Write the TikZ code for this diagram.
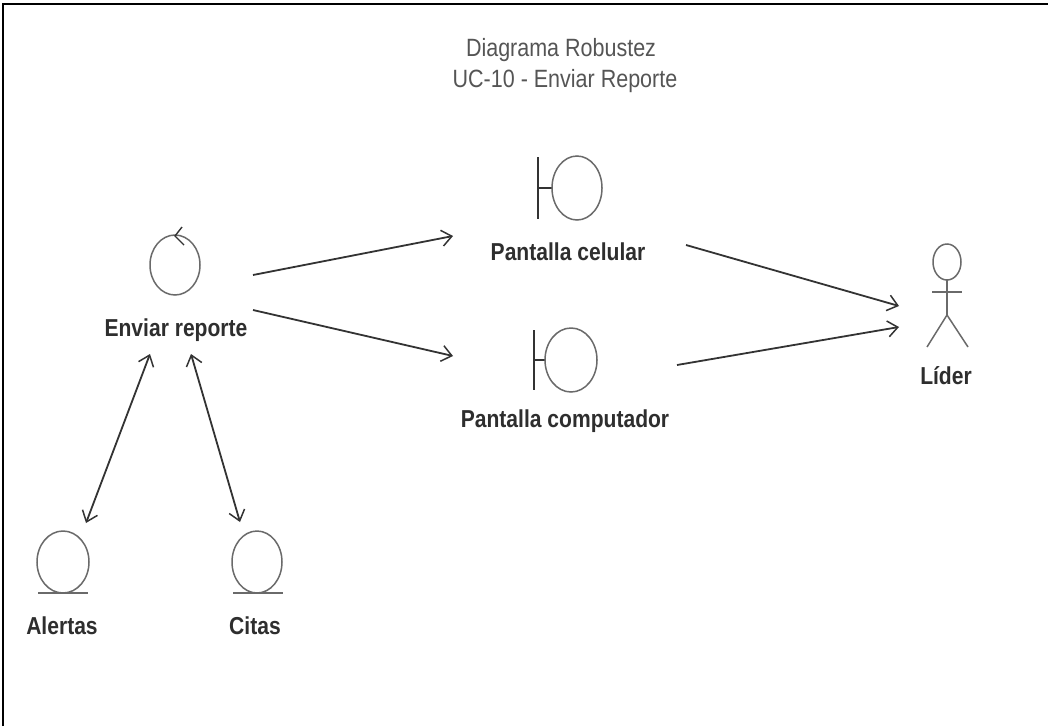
\documentclass[tikz,border=0pt]{standalone}
\usepackage{fontspec}
\setmainfont{Liberation Sans}
\newfontfamily\labfont[FakeStretch=0.86]{Liberation Sans}
\usetikzlibrary{arrows.meta}
\definecolor{linecol}{HTML}{333333}
\definecolor{shapecol}{HTML}{6A6A6A}
\definecolor{labcol}{HTML}{2E2E2E}
\definecolor{titlecol}{HTML}{555555}
\tikzset{
  x=1pt, y=-1pt,
  symbol/.style={draw=shapecol, line width=1.5pt},
  barline/.style={draw=linecol, line width=1.4pt},
  lab/.style={font=\labfont\bfseries\fontsize{24.5}{27}\selectfont, text=labcol, inner sep=0pt},
  ttl/.style={font=\labfont\fontsize{25}{28}\selectfont, text=titlecol, inner sep=0pt},
  tip/.style={Straight Barb[length=10pt,width=16pt,line width=1.5pt]},
  link/.style={draw=linecol, line width=1.8pt, -{Straight Barb[length=10pt,width=16pt,line width=1.5pt]}},
  bilink/.style={draw=linecol, line width=1.8pt, {Straight Barb[length=10pt,width=16pt,line width=1.5pt]}-{Straight Barb[length=10pt,width=16pt,line width=1.5pt]}}
}
\begin{document}
\begin{tikzpicture}
\useasboundingbox (0,0) rectangle (1048,726);
\fill[white] (0,0) rectangle (1048,726);
% frame (top and left edges)
\draw[line width=2pt] (3,726) -- (3,4) -- (1048,4);

% title
\node[ttl] (t1) at (561,50) {Diagrama Robustez};
\node[ttl] (t2) at (565,81) {UC-10 - Enviar Reporte};

% control: Enviar reporte
\draw[symbol] (175,265) ellipse [x radius=25, y radius=30];
\draw[symbol, draw=linecol, line width=1.4pt] (182,227) -- (175,236) -- (184,245);
\node[lab] (env) at (176,330) {Enviar reporte};

% boundary: Pantalla celular
\draw[barline] (538,157) -- (538,219);
\draw[barline] (538,188) -- (552,188);
\draw[symbol] (577,188) ellipse [x radius=25, y radius=32];
\node[lab] (cel) at (568,252) {Pantalla celular};

% boundary: Pantalla computador
\draw[barline] (534,330) -- (534,390);
\draw[barline] (534,360) -- (545,360);
\draw[symbol] (571,360) ellipse [x radius=26, y radius=32];
\node[lab] (comp) at (565,421) {Pantalla computador};

% actor: Lider
\draw[symbol] (947,262) ellipse [x radius=14, y radius=18];
\draw[symbol] (947,280) -- (947,315);
\draw[symbol] (932,292) -- (962,292);
\draw[symbol] (927,347) -- (947,315) -- (968,347);
\node[lab] (lider) at (946,376) {Líder};

% entities: Alertas and Citas
\draw[symbol] (63,562) ellipse [x radius=26, y radius=31];
\draw[symbol] (38,593) -- (88,593);
\node[lab] (alertas) at (62,626) {Alertas};
\draw[symbol] (257,562) ellipse [x radius=25, y radius=31];
\draw[symbol] (233,593) -- (283,593);
\node[lab] (citas) at (255,626) {Citas};

% connector ports
\coordinate (envA) at (253,275);
\coordinate (envB) at (253,310);
\coordinate (envC) at (150,354);
\coordinate (envD) at (191,354);
\coordinate (celIn) at (453,236);
\coordinate (celOut) at (686,245);
\coordinate (compIn) at (453,356);
\coordinate (compOut) at (677,365);
\coordinate (liderA) at (899,306);
\coordinate (liderB) at (899,327);
\coordinate (alertasP) at (86,523);
\coordinate (citasP) at (240,522);

% connectors
\draw[link] (envA) -- (celIn);
\draw[link] (envB) -- (compIn);
\draw[link] (celOut) -- (liderA);
\draw[link] (compOut) -- (liderB);
\draw[bilink] (alertasP) -- (envC);
\draw[bilink] (citasP) -- (envD);
\end{tikzpicture}
\end{document}
